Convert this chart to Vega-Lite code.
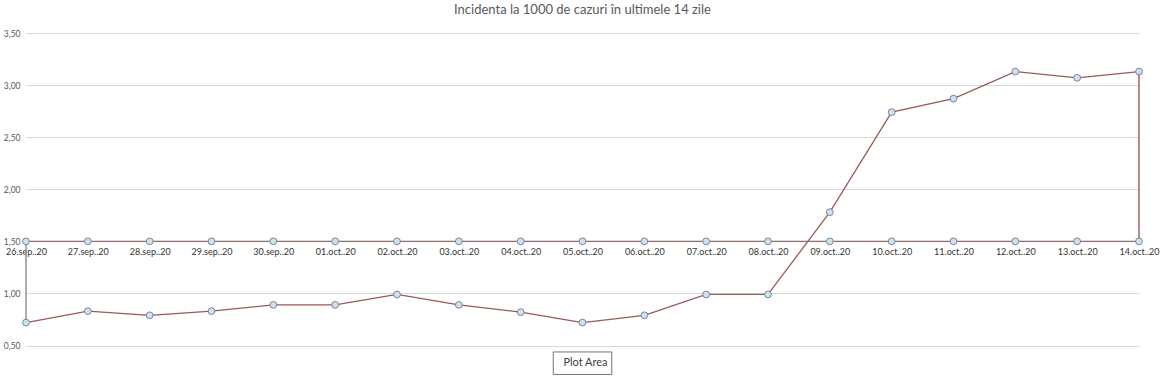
{
  "$schema": "https://vega.github.io/schema/vega-lite/v6.json",
  "width": 1113,
  "height": 312.5,
  "autosize": {"type": "none"},
  "padding": {"left": 26, "top": 33, "right": 23, "bottom": 36.5},
  "background": "white",
  "title": {
    "text": "Incidenta la 1000 de cazuri în ultimele 14 zile",
    "font": "Lato",
    "fontSize": 13,
    "fontWeight": "normal",
    "color": "#595959",
    "anchor": "middle",
    "offset": 12
  },
  "datasets": {
    "inc": [
      {"d": "26.sep..20", "v": 0.72},
      {"d": "27.sep..20", "v": 0.83},
      {"d": "28.sep..20", "v": 0.79},
      {"d": "29.sep..20", "v": 0.83},
      {"d": "30.sep..20", "v": 0.89},
      {"d": "01.oct..20", "v": 0.89},
      {"d": "02.oct..20", "v": 0.99},
      {"d": "03.oct..20", "v": 0.89},
      {"d": "04.oct..20", "v": 0.82},
      {"d": "05.oct..20", "v": 0.72},
      {"d": "06.oct..20", "v": 0.79},
      {"d": "07.oct..20", "v": 0.99},
      {"d": "08.oct..20", "v": 0.99},
      {"d": "09.oct..20", "v": 1.78},
      {"d": "10.oct..20", "v": 2.74},
      {"d": "11.oct..20", "v": 2.87},
      {"d": "12.oct..20", "v": 3.13},
      {"d": "13.oct..20", "v": 3.07},
      {"d": "14.oct..20", "v": 3.13}
    ],
    "prag": [
      {"d": "26.sep..20", "v": 1.5},
      {"d": "27.sep..20", "v": 1.5},
      {"d": "28.sep..20", "v": 1.5},
      {"d": "29.sep..20", "v": 1.5},
      {"d": "30.sep..20", "v": 1.5},
      {"d": "01.oct..20", "v": 1.5},
      {"d": "02.oct..20", "v": 1.5},
      {"d": "03.oct..20", "v": 1.5},
      {"d": "04.oct..20", "v": 1.5},
      {"d": "05.oct..20", "v": 1.5},
      {"d": "06.oct..20", "v": 1.5},
      {"d": "07.oct..20", "v": 1.5},
      {"d": "08.oct..20", "v": 1.5},
      {"d": "09.oct..20", "v": 1.5},
      {"d": "10.oct..20", "v": 1.5},
      {"d": "11.oct..20", "v": 1.5},
      {"d": "12.oct..20", "v": 1.5},
      {"d": "13.oct..20", "v": 1.5},
      {"d": "14.oct..20", "v": 1.5}
    ],
    "drop": [
      {"d": "26.sep..20", "y1": 0.72, "y2": 1.5, "c": "#8a8a8a"},
      {"d": "14.oct..20", "y1": 1.5, "y2": 3.13, "c": "#9a5a55"}
    ],
    "note": [
      {"d": "05.oct..20", "v": 0.33, "t": "Plot Area"}
    ]
  },
  "config": {
    "view": {"stroke": null},
    "axis": {"labelFont": "Lato", "titleFont": "Lato"}
  },
  "encoding": {
    "x": {
      "field": "d",
      "type": "ordinal",
      "sort": null,
      "scale": {"type": "point", "padding": 0},
      "axis": {
        "title": null,
        "orient": "bottom",
        "offset": -104.2,
        "domain": false,
        "ticks": false,
        "grid": false,
        "labelAngle": 0,
        "labelFontSize": 9,
        "labelColor": "#333333",
        "labelPadding": 6,
        "labelOverlap": false,
        "labelBound": false
      }
    }
  },
  "layer": [
    {
      "data": {"name": "inc"},
      "mark": {"type": "line", "color": "#9a5a55", "strokeWidth": 1.3, "clip": false},
      "encoding": {
        "y": {
          "field": "v",
          "type": "quantitative",
          "scale": {"domain": [0.5, 3.5], "nice": false, "zero": false},
          "axis": {
            "title": null,
            "values": [0.5, 1, 1.5, 2, 2.5, 3, 3.5],
            "labelExpr": "replace(format(datum.value, '.2f'), '.', ',')",
            "labelFontSize": 8.5,
            "labelColor": "#595959",
            "labelPadding": 6,
            "domain": false,
            "ticks": false,
            "grid": true,
            "gridColor": "#d9d9d9",
            "gridWidth": 1
          }
        }
      }
    },
    {
      "data": {"name": "prag"},
      "mark": {"type": "line", "color": "#8c6e6a", "strokeWidth": 1.4, "clip": false},
      "encoding": {"y": {"field": "v", "type": "quantitative"}}
    },
    {
      "data": {"name": "drop"},
      "mark": {"type": "rule", "strokeWidth": 1.4},
      "encoding": {
        "y": {"field": "y1", "type": "quantitative"},
        "y2": {"field": "y2"},
        "color": {"field": "c", "type": "nominal", "scale": null}
      }
    },
    {
      "data": {"name": "inc"},
      "mark": {"type": "point", "shape": "circle", "filled": true, "size": 46, "fill": "#d2e0ea", "stroke": "#6f8aa5", "strokeWidth": 1, "opacity": 1},
      "encoding": {"y": {"field": "v", "type": "quantitative"}}
    },
    {
      "data": {"name": "prag"},
      "mark": {"type": "point", "shape": "circle", "filled": true, "size": 46, "fill": "#d2e0ea", "stroke": "#6f8aa5", "strokeWidth": 1, "opacity": 1},
      "encoding": {"y": {"field": "v", "type": "quantitative"}}
    },
    {
      "data": {"name": "note"},
      "mark": {"type": "point", "shape": "M-1.3,-0.5H1.3V0.5H-1.3Z", "size": 2025, "filled": true, "fill": "#b0b0b0", "strokeWidth": 0, "opacity": 0.8, "clip": false, "dx": 6, "dy": 3},
      "encoding": {"y": {"field": "v", "type": "quantitative"}}
    },
    {
      "data": {"name": "note"},
      "mark": {"type": "point", "shape": "M-1.3,-0.5H1.3V0.5H-1.3Z", "size": 2025, "filled": true, "fill": "#ffffff", "stroke": "#767676", "strokeWidth": 1, "opacity": 1, "clip": false, "dx": 3},
      "encoding": {"y": {"field": "v", "type": "quantitative"}}
    },
    {
      "data": {"name": "note"},
      "mark": {"type": "text", "font": "Lato", "fontSize": 11, "color": "#404040", "align": "center", "baseline": "middle", "clip": false, "dx": 3},
      "encoding": {
        "y": {"field": "v", "type": "quantitative"},
        "text": {"field": "t"}
      }
    }
  ]
}
